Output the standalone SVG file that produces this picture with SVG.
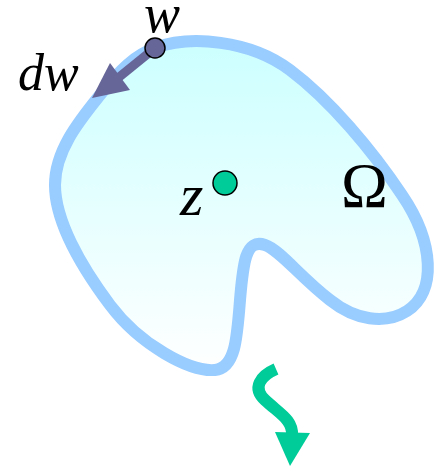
<svg xmlns="http://www.w3.org/2000/svg" width="442" height="468" viewBox="0 0 442 468">
<defs>
<linearGradient id="g" gradientUnits="userSpaceOnUse" x1="0" y1="40" x2="0" y2="372">
<stop offset="0" stop-color="#ccffff"/>
<stop offset="1" stop-color="#ffffff"/>
</linearGradient>
<style>
.lbl{font-family:"Liberation Serif","Times New Roman",serif;fill:#000}
.it{font-style:italic}
</style>
</defs>
<rect width="442" height="468" fill="#ffffff"/>
<g id="region">
<path d="M 155,48 C 190,35 250,40 290,70 C 330,100 372,150 402,195 C 434,242 437,292 407,311 C 385,325 355,320 330,300 C 300,277 280,250 265,245 C 245,238 243,265 240,300 C 237,340 235,368 215,370 C 190,372 140,345 110,305 C 80,265 55,220 55,185 C 55,150 80,120 100,95 C 120,70 135,55 155,48 Z" fill="url(#g)" stroke="#99ccff" stroke-width="12" stroke-linejoin="round"/>
<text class="lbl" x="341" y="207" font-size="63">Ω</text>
</g>
<g id="connectors">
<line x1="155" y1="48" x2="118" y2="78" stroke="#666699" stroke-width="9"/>
<polygon points="92,98 110,63 130,90" fill="#666699"/>
<path d="M 276,369 C 260,376 252,388 265,400 C 280,414 293,420 292,435" fill="none" stroke="#00cc99" stroke-width="12"/>
<polygon points="275,432 310,433 290,466" fill="#00cc99"/>
</g>
<g id="w">
<circle cx="155" cy="48" r="10" fill="#666699" stroke="#000" stroke-width="1.5"/>
<text class="lbl it" x="144" y="32" font-size="54">w</text>
</g>
<g id="dw">
<text class="lbl it" x="18" y="90" font-size="52">dw</text>
</g>
<g id="z">
<circle cx="225" cy="183" r="12" fill="#00cc99" stroke="#000" stroke-width="1.5"/>
<text class="lbl it" x="180" y="215" font-size="60">z</text>
</g>
</svg>
